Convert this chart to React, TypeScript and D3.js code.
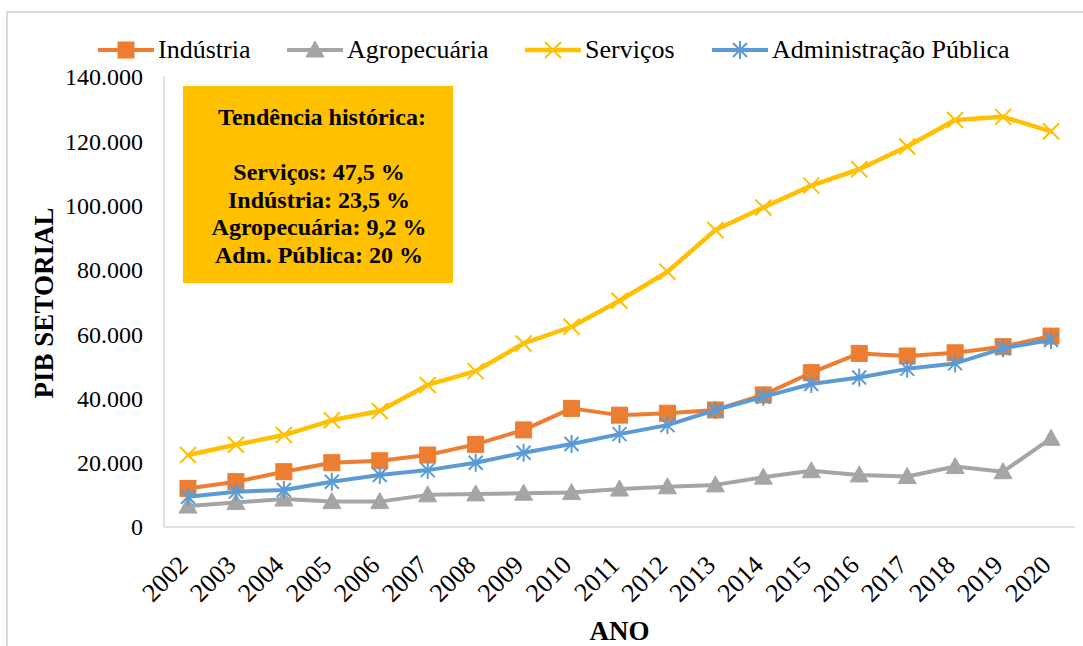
import * as d3 from "d3";

const years = ["2002", "2003", "2004", "2005", "2006", "2007", "2008", "2009", "2010", "2011", "2012", "2013", "2014", "2015", "2016", "2017", "2018", "2019", "2020"];
const industria = [12000, 14100, 17200, 20000, 20600, 22400, 25700, 30200, 36900, 34800, 35400, 36400, 41100, 48000, 54000, 53200, 54200, 56100, 59400];
const agropecuaria = [6500, 7600, 8700, 7900, 7900, 10000, 10300, 10500, 10700, 11800, 12500, 13100, 15500, 17500, 16200, 15700, 18800, 17200, 27600];
const servicos = [22400, 25600, 28600, 33200, 36100, 44200, 48500, 57100, 62300, 70400, 79400, 92400, 99400, 106200, 111300, 118400, 126600, 127600, 123100];
const admPublica = [9400, 11000, 11500, 14100, 16200, 17700, 20000, 23100, 25800, 28900, 31700, 36400, 40500, 44500, 46500, 49200, 50900, 55600, 58200];
const yTicks = [0, 20000, 40000, 60000, 80000, 100000, 120000, 140000];
const boxLines = ["Serviços: 47,5 %", "Indústria: 23,5 %", "Agropecuária: 9,2 %", "Adm. Pública: 20 %"];

const FONT = "'Liberation Serif', 'Times New Roman', serif";
const W = 1083;
const H = 646;
const PLOT = { left: 164, right: 1075, top: 77, bottom: 527 };

const series = [
  { name: "Indústria", values: industria, color: "#ED7D31", marker: "square", width: 4 },
  { name: "Agropecuária", values: agropecuaria, color: "#A5A5A5", marker: "triangle", width: 4 },
  { name: "Serviços", values: servicos, color: "#FFC000", marker: "x", width: 4.5 },
  { name: "Administração Pública", values: admPublica, color: "#5B9BD5", marker: "star", width: 4 },
];
// legend x start of each line segment
const legendX = [98, 287, 525, 712];

const ptBr = d3.formatLocale({ decimal: ",", thousands: ".", grouping: [3], currency: ["R$", ""] });
const fmt = ptBr.format(",.0f");

function Marker({ type, color, x, y }: { type: string; color: string; x: number; y: number }) {
  if (type === "square") {
    return <rect x={x - 8} y={y - 8} width={16} height={16} fill={color} stroke={color} strokeWidth={1} />;
  }
  if (type === "triangle") {
    return <path d={`M${x},${y - 9}L${x + 9},${y + 7}L${x - 9},${y + 7}Z`} fill={color} stroke={color} strokeWidth={1} />;
  }
  if (type === "x") {
    const r = 8;
    return (
      <path d={`M${x - r},${y - r}L${x + r},${y + r}M${x - r},${y + r}L${x + r},${y - r}`} stroke={color} strokeWidth={2} fill="none" />
    );
  }
  const r = 7;
  return (
    <path
      d={`M${x - r},${y - r}L${x + r},${y + r}M${x - r},${y + r}L${x + r},${y - r}M${x},${y - r - 2}L${x},${y + r + 2}`}
      stroke={color}
      strokeWidth={2}
      fill="none"
    />
  );
}

function Chart() {
  const x = d3.scaleBand<string>().domain(years).range([PLOT.left, PLOT.right]);
  const y = d3.scaleLinear().domain([0, 140000]).range([PLOT.bottom, PLOT.top]);
  const cx = (d: string) => (x(d) ?? 0) + x.bandwidth() / 2;
  const line = d3
    .line<number>()
    .x((_, i) => cx(years[i]))
    .y((v) => y(v));

  return (
    <svg width={W} height={H} style={{ position: "absolute", left: 0, top: 0, background: "#fff" }} fontFamily={FONT}>
      {/* outer chart border */}
      <path d={`M7,${H + 5}L7,12L${W + 5},12`} fill="none" stroke="#d9d9d9" strokeWidth={2} />

      {/* axes */}
      <line x1={PLOT.left} x2={PLOT.left} y1={PLOT.top - 1} y2={PLOT.bottom} stroke="#d9d9d9" strokeWidth={1.5} />
      <line x1={PLOT.left} x2={PLOT.right} y1={PLOT.bottom} y2={PLOT.bottom} stroke="#d9d9d9" strokeWidth={1.5} />

      {yTicks.map((t) => (
        <text key={t} x={143} y={y(t)} dy="0.35em" textAnchor="end" fontSize={24} fill="#000">
          {fmt(t)}
        </text>
      ))}

      {years.map((yr) => (
        <text
          key={yr}
          transform={`translate(${cx(yr) - 5},${560}) rotate(-45)`}
          dy="0.35em"
          textAnchor="end"
          fontSize={26}
          fill="#000"
        >
          {yr}
        </text>
      ))}

      <text transform={`translate(53,${303}) rotate(-90)`} textAnchor="middle" fontSize={27} fontWeight="bold">
        PIB SETORIAL
      </text>
      <text x={(PLOT.left + PLOT.right) / 2} y={640} textAnchor="middle" fontSize={27} fontWeight="bold">
        ANO
      </text>

      {/* annotation box */}
      <rect x={183} y={86} width={270} height={197} fill="#FFC000" />
      <g fontWeight="bold" fontSize={24} textAnchor="middle">
        <text x={322} y={125}>Tendência histórica:</text>
        {boxLines.map((t, i) => (
          <text key={t} x={319} y={180 + i * 27.7}>
            {t}
          </text>
        ))}
      </g>

      {/* series */}
      {series.map((s) => (
        <g key={s.name}>
          <path d={line(s.values) ?? ""} fill="none" stroke={s.color} strokeWidth={s.width} strokeLinejoin="round" strokeLinecap="round" />
          {s.values.map((v, i) => (
            <Marker key={i} type={s.marker} color={s.color} x={cx(years[i])} y={y(v)} />
          ))}
        </g>
      ))}

      {/* legend */}
      {series.map((s, i) => (
        <g key={s.name}>
          <line x1={legendX[i]} x2={legendX[i] + 56} y1={50} y2={50} stroke={s.color} strokeWidth={s.width} />
          <Marker type={s.marker} color={s.color} x={legendX[i] + 28} y={50} />
          <text x={legendX[i] + 60} y={58} fontSize={26} fill="#000">
            {s.name}
          </text>
        </g>
      ))}
    </svg>
  );
}

export default function App() {
  return (
    <div>
      <Chart />
    </div>
  );
}
